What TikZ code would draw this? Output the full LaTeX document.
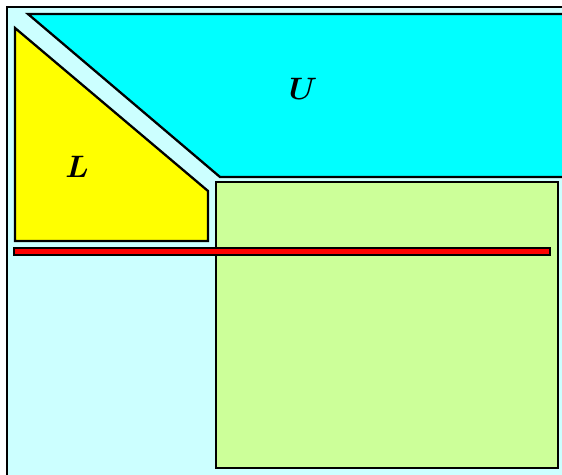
\documentclass[tikz,border=0pt]{standalone}
\definecolor{paleblue}{HTML}{CCFFFF}
\definecolor{upcyan}{HTML}{00FFFF}
\definecolor{lowyellow}{HTML}{FFFF00}
\definecolor{blockgreen}{HTML}{CCFF99}
\definecolor{barred}{HTML}{FF0000}
\newcommand{\bigname}[1]{\scalebox{3.1}{\boldmath$#1$}}
\begin{document}
\begin{tikzpicture}[x=1pt, y=-1pt, line join=miter,
    region/.style={draw=black, line width=2.3pt}]
      \useasboundingbox (0,0) rectangle (562,474);

      % Outer matrix (background)
      \draw[fill=paleblue, line width=2.8pt] (7,7) rectangle (575,490);

      % Upper part U
      \draw[region, fill=upcyan] (28,14) -- (575,14) -- (575,177) -- (220,177) -- cycle;
      \node (uname) at (303,89) {\bigname{U}};

      % Lower part L
      \draw[region, fill=lowyellow] (15,28) -- (208,191) -- (208,241) -- (15,241) -- cycle;
      \node (lname) at (77,167) {\bigname{L}};

      % Trailing block
      \draw[region, fill=blockgreen] (216,182) rectangle (558,468);

      % Red row
      \draw[region, fill=barred] (14,248) rectangle (550,255);
    \end{tikzpicture}
\end{document}
